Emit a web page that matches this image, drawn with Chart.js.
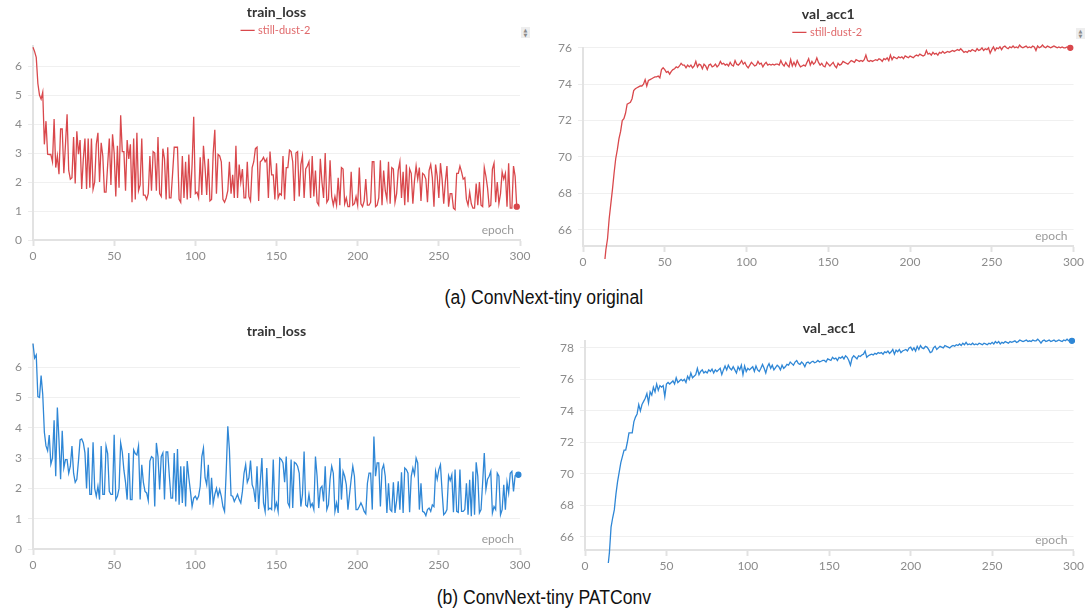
<!DOCTYPE html>
<html>
<head>
<meta charset="utf-8">
<script src="https://cdn.jsdelivr.net/npm/chart.js@4.4.1/dist/chart.umd.min.js"></script>
<style>
    body { margin: 0; background: #fff; width: 1087px; height: 610px; position: relative; overflow: hidden; }
    .box { position: absolute; }
    .caption { position: absolute; left: 0; width: 1087px; text-align: center; font-family: "Liberation Sans", Arial, sans-serif; font-size: 20px; line-height: 20px; color: #111; }
    .caption span { display: inline-block; transform: scaleX(0.88); }
    .spin { position: absolute; width: 9px; height: 11px; background: #eeeeee; color: #8a8a8a; font-family: "DejaVu Sans", sans-serif; font-size: 5px; line-height: 5px; text-align: center; padding-top: 1px; box-sizing: border-box; }
</style>
</head>
<body>
<div class="box" style="left:0;top:0;width:540px;height:270px"><canvas id="lossOrigChart"></canvas></div>
<div class="box" style="left:540px;top:0;width:547px;height:276px"><canvas id="accOrigChart"></canvas></div>
<div class="caption" style="top:287px"><span>(a) ConvNext-tiny original</span></div>
<div class="box" style="left:0;top:310px;width:540px;height:269px"><canvas id="lossPatChart"></canvas></div>
<div class="box" style="left:540px;top:310px;width:547px;height:270px"><canvas id="accPatChart"></canvas></div>
<div class="caption" style="top:587px"><span>(b) ConvNext-tiny PATConv</span></div>
<div class="spin" style="left:521px;top:27px">&#9650;<br>&#9660;</div>
<div class="spin" style="left:1076px;top:28px">&#9650;<br>&#9660;</div>
<script>
// run name shown in the legend
const runName = 'still-dust-2';

// x axis (epochs)
const epochMin = 0;
const epochMax = 300;
const epochStep = 50;

// train_loss, ConvNext-tiny original (epochs 0..298)
const lossOrig = [
    6.65, 6.5, 6.3, 5.4, 5.0, 4.86, 5.1, 3.3, 4.1, 2.96,
    2.95, 2.95, 2.7, 4.17, 2.5, 2.9, 2.27, 3.83, 3.83, 2.3,
    3.3, 4.34, 2.4, 2.1, 2.15, 3.55, 1.95, 3.75, 2.96, 3.45,
    1.76, 2.8, 3.5, 1.76, 3.5, 1.8, 3.5, 1.75, 2.0, 3.3,
    3.7, 2.0, 3.35, 2.9, 1.65, 1.65, 2.6, 3.5, 1.9, 3.65,
    3.0, 1.5, 3.25, 1.8, 4.3, 3.05, 3.05, 1.7, 3.45, 2.8,
    3.3, 1.3, 3.5, 1.4, 3.7, 1.7, 1.9, 3.5, 1.55, 1.55,
    1.4, 1.6, 2.9, 1.7, 3.05, 3.0, 1.7, 3.55, 1.6, 1.5,
    3.15, 2.8, 1.4, 3.2, 1.45, 1.45, 2.3, 3.2, 3.2, 3.2,
    1.4, 1.3, 2.9, 1.45, 2.7, 1.4, 2.95, 1.45, 2.6, 4.25,
    1.6, 1.65, 1.45, 2.85, 1.55, 3.25, 2.5, 1.55, 2.8, 1.35,
    1.4, 3.0, 3.8, 1.6, 2.95, 2.9, 2.7, 1.4, 1.3, 1.45,
    1.7, 2.7, 1.6, 2.25, 1.45, 3.25, 1.45, 2.6, 2.0, 2.45,
    1.45, 1.45, 2.7, 1.5, 1.35, 2.5, 2.7, 3.15, 3.2, 1.35,
    2.7, 2.75, 2.85, 2.7, 2.8, 1.45, 3.05, 2.25, 2.25, 1.4,
    2.65, 1.45, 1.6, 1.55, 2.9, 1.4, 2.5, 2.5, 3.1, 3.05,
    2.7, 1.35, 3.0, 3.05, 1.5, 2.6, 2.9, 1.45, 2.45, 2.55,
    2.7, 1.45, 2.9, 1.5, 2.4, 1.3, 1.2, 2.8, 2.0, 1.45,
    3.0, 1.3, 1.4, 2.75, 1.5, 1.2, 1.5, 1.2, 2.15, 1.2,
    2.5, 2.45, 1.25, 1.45, 1.15, 1.15, 2.35, 1.2, 1.25, 1.5,
    1.2, 2.5, 1.25, 1.15, 1.35, 2.1, 1.2, 1.2, 1.3, 2.7,
    2.7, 1.15, 1.2, 1.45, 2.75, 1.2, 2.4, 1.7, 1.4, 2.7,
    1.25, 2.5, 2.45, 1.3, 1.6, 2.4, 2.7, 1.45, 2.35, 1.2,
    2.6, 1.3, 2.45, 2.3, 1.25, 2.05, 2.55, 2.1, 2.5, 1.35,
    2.3, 2.25, 2.1, 1.3, 2.4, 2.6, 2.15, 1.15, 2.6, 2.2,
    1.45, 2.65, 2.1, 1.25, 2.0, 2.55, 1.15, 1.6, 1.6, 1.1,
    1.05, 2.3, 2.3, 2.55, 2.35, 2.1, 2.15, 1.4, 1.2, 1.65,
    1.25, 1.1, 1.1, 1.95, 1.2, 2.0, 1.2, 1.15, 2.5, 2.2,
    1.8, 1.15, 1.2, 2.45, 2.65, 1.3, 2.0, 1.25, 1.6, 2.35,
    2.1, 2.3, 1.15, 2.65, 1.1, 1.1, 2.55, 2.2, 1.15
];

// val_acc1, ConvNext-tiny original (epochs 0..298, early epochs are below the view)
const accOrig = [
    null, null, null, null, null, null, null, null, null, null,
    58.5, 60.8, 62.6, 64.0, 64.9, 65.5, 66.6, 67.4, 68.2, 69.1,
    69.9, 70.4, 71.0, 71.4, 72.0, 72.1, 72.4, 72.9, 72.95, 73.0,
    73.2, 73.65, 73.75, 73.8, 73.85, 73.9, 73.9, 74.0, 74.25, 73.9,
    74.2, 74.25, 74.3, 74.35, 74.4, 74.4, 74.45, 74.35, 74.8, 74.9,
    74.8, 74.65, 74.7, 74.55, 74.7, 74.8, 74.85, 74.95, 74.9, 75.0,
    75.15, 75.05, 75.05, 74.9, 75.05, 74.95, 75.05, 74.9, 75.0, 75.25,
    74.95, 75.1, 75.05, 74.85, 75.1, 75.0, 74.8, 75.05, 75.1, 74.95,
    75.0, 75.1, 74.95, 75.05, 75.25, 75.1, 75.15, 75.05, 75.1, 75.0,
    75.2, 75.05, 75.0, 75.3, 75.1, 75.05, 75.15, 75.3, 75.1, 75.2,
    75.0, 74.9, 75.05, 75.2, 75.1, 75.0, 75.05, 75.25, 75.1, 75.15,
    74.95, 75.1, 75.2, 75.05, 75.1, 75.05, 75.1, 75.05, 75.1, 75.1,
    75.05, 75.3, 75.1, 75.0, 75.2, 75.05, 74.95, 75.35, 75.0, 75.2,
    75.0, 75.3, 75.1, 74.95, 75.0, 75.05, 75.0, 75.2, 75.4, 75.05,
    75.25, 75.1, 75.2, 75.45, 75.2, 75.05, 75.15, 75.0, 74.95, 75.2,
    75.1, 75.0, 75.1, 75.2, 75.0, 74.9, 75.15, 75.05, 75.1, 75.25,
    75.2, 75.15, 75.1, 75.2, 75.3, 75.25, 75.2, 75.35, 75.3, 75.25,
    75.3, 75.25, 75.35, 75.6, 75.3, 75.25, 75.3, 75.25, 75.3, 75.35,
    75.3, 75.4, 75.35, 75.25, 75.4, 75.35, 75.45, 75.3, 75.6, 75.35,
    75.5, 75.45, 75.4, 75.5, 75.45, 75.5, 75.4, 75.55, 75.5, 75.45,
    75.55, 75.5, 75.45, 75.55, 75.6, 75.55, 75.65, 75.6, 75.55, 75.6,
    75.85, 75.65, 75.7, 75.6, 75.75, 75.65, 75.7, 75.6, 75.75, 75.7,
    75.8, 75.7, 75.75, 75.8, 75.75, 75.8, 75.85, 75.8, 75.85, 75.9,
    75.85, 75.95, 75.85, 75.75, 75.8, 75.75, 75.85, 75.8, 75.9, 75.85,
    75.8, 75.95, 75.85, 75.9, 76.0, 75.85, 75.95, 75.9, 76.0, 75.7,
    75.9, 76.05, 75.85, 76.0, 75.95, 76.05, 75.9, 76.05, 76.1, 76.0,
    75.95, 76.05, 76.0, 76.1, 76.0, 76.05, 76.0, 76.15, 76.05, 76.0,
    76.05, 76.1, 76.0, 76.05, 76.0, 76.1, 76.05, 75.85, 76.1, 76.0,
    76.05, 76.15, 76.05, 76.0, 76.1, 76.05, 76.0, 76.05, 76.1, 76.05,
    76.0, 76.05, 76.0, 76.05, 76.0, 76.0, 76.05, 76.0, 76.0
];

// train_loss, ConvNext-tiny PATConv (epochs 0..299)
const lossPat = [
    6.77, 6.3, 6.4, 5.03, 5.0, 5.72, 5.1, 3.85, 3.4, 3.24,
    3.76, 2.8, 3.0, 4.25, 2.4, 4.67, 3.6, 2.3, 3.9, 2.68,
    2.95, 2.95, 2.5, 2.73, 3.4, 2.5, 2.2, 2.3, 2.9, 3.6,
    3.63, 3.5, 3.17, 2.0, 3.35, 1.8, 1.8, 3.52, 2.0, 1.74,
    2.07, 1.63, 3.4, 1.8, 1.8, 3.4, 3.15, 1.9, 1.8, 1.8,
    3.77, 1.63, 1.74, 2.0, 3.5, 3.2, 2.6, 2.2, 1.63, 3.17,
    1.63, 1.63, 3.27, 3.15, 3.1, 3.4, 1.63, 2.78, 2.2, 1.9,
    1.85, 1.6, 2.9, 3.05, 3.0, 1.4, 3.5, 3.05, 1.96, 3.05,
    3.17, 1.63, 3.2, 3.2, 2.4, 1.68, 1.68, 3.17, 1.57, 3.3,
    1.46, 2.73, 1.52, 2.73, 1.4, 2.9, 2.35, 1.9, 1.4, 1.68,
    1.74, 1.63, 1.74, 2.07, 3.05, 3.33, 2.35, 2.12, 2.78, 1.46,
    2.35, 1.5, 1.8, 2.0, 1.74, 1.96, 1.74, 1.4, 1.24, 2.53,
    4.05, 3.27, 1.76, 1.74, 1.57, 1.68, 1.8, 1.63, 1.52, 1.9,
    2.5, 2.78, 2.2, 2.35, 2.92, 2.12, 1.96, 1.55, 2.73, 1.32,
    2.2, 3.0, 1.52, 1.24, 2.67, 1.3, 1.35, 1.3, 2.95, 1.33,
    1.52, 1.24, 3.0, 2.95, 2.84, 2.2, 3.05, 1.52, 1.4, 2.95,
    1.35, 2.86, 2.82, 2.73, 2.5, 1.4, 1.8, 3.22, 1.45, 1.4,
    1.8, 1.4, 1.5, 1.3, 3.05, 2.4, 1.35, 2.0, 2.07, 1.57,
    2.73, 1.3, 1.46, 2.3, 2.73, 2.5, 1.24, 1.52, 1.19, 3.0,
    1.63, 2.56, 2.4, 2.12, 1.3, 1.8, 2.3, 2.73, 2.4, 1.3,
    1.3, 1.4, 1.52, 1.4, 1.24, 1.16, 2.17, 2.5, 2.5, 1.3,
    3.71, 2.4, 2.84, 2.84, 1.4, 2.62, 2.78, 2.4, 1.19, 2.17,
    1.3, 1.24, 2.2, 1.19, 1.6, 2.23, 1.3, 2.53, 1.19, 2.67,
    2.62, 2.5, 1.21, 2.4, 2.67, 2.45, 3.0, 2.84, 1.3, 2.17,
    1.24, 1.21, 1.1, 1.3, 1.35, 1.24, 1.46, 1.4, 2.56, 2.3,
    2.62, 2.78, 1.9, 1.13, 1.19, 1.3, 2.42, 2.26, 2.45, 1.21,
    2.62, 1.24, 1.21, 2.62, 1.24, 1.24, 1.3, 2.17, 1.13, 2.28,
    1.08, 2.56, 1.13, 2.86, 2.4, 1.19, 1.3, 2.2, 3.17, 1.96,
    2.3, 2.4, 2.56, 1.19, 1.4, 1.3, 2.5, 2.4, 1.13, 1.3,
    2.12, 1.3, 2.2, 1.85, 2.5, 2.56, 1.9, 2.42, 2.45, 2.45
];

// val_acc1, ConvNext-tiny PATConv (epochs 0..299, early epochs are below the view)
const accPat = [
    null, null, null, null, null, null, null, null, null, null,
    57.5, 59.5, 61.4, 62.9, 64.0, 65.0, 66.6, 67.2, 67.7, 68.7,
    69.5, 70.1, 70.7, 71.1, 71.5, 71.5, 72.0, 72.6, 72.6, 72.6,
    73.3, 73.6, 73.8, 74.4, 74.0, 74.4, 74.6, 74.8, 75.1, 74.5,
    75.2, 75.0, 75.5, 75.2, 75.7, 75.3, 75.6, 75.5, 75.6, 74.9,
    75.7, 75.8, 75.7, 75.8, 75.9, 75.7, 76.1, 75.8, 75.9, 76.0,
    75.9, 76.0, 75.8, 76.2, 76.0, 76.4, 76.1, 76.2, 76.3, 76.7,
    76.3, 76.5, 76.6, 76.4, 76.5, 76.4, 76.6, 76.5, 76.65, 76.4,
    76.6, 76.5, 76.6, 76.7, 76.3, 76.6, 76.85, 76.6, 76.9, 76.7,
    76.6, 76.8, 76.6, 76.4, 76.8, 76.6, 76.9, 76.3, 76.85, 76.5,
    76.7, 76.6, 76.7, 76.8, 76.5, 76.85, 76.6, 76.5, 76.7, 76.95,
    76.7, 76.4, 76.8, 77.0, 76.7, 76.9, 76.6, 76.75, 76.9, 76.8,
    76.6, 76.9, 76.7, 76.8, 76.95, 76.9, 77.1, 77.0, 76.9, 77.1,
    77.2, 77.0, 76.95, 77.1, 77.0, 76.8, 77.05, 77.1, 77.0, 77.1,
    77.15, 77.05, 77.1, 77.2, 77.1, 77.15, 77.2, 77.2, 77.1, 77.3,
    77.25, 77.2, 77.4, 77.3, 77.35, 77.2, 77.4, 77.35, 77.45, 77.3,
    77.5, 77.4, 77.2, 76.9, 77.35, 77.5, 77.4, 77.3, 77.5, 77.45,
    77.55, 77.6, 77.8, 77.4, 77.5, 77.55, 77.6, 77.55, 77.65, 77.6,
    77.7, 77.65, 77.7, 77.6, 77.75, 77.7, 77.8, 77.65, 77.75, 77.9,
    77.6, 77.85, 77.75, 77.9, 77.7, 77.8, 77.85, 77.9, 77.8, 78.0,
    78.05, 77.85, 78.0, 77.8, 78.1, 77.9, 78.15, 78.0, 77.95, 78.1,
    78.05, 77.9, 77.7, 77.75, 78.0, 78.1, 77.9, 78.0, 78.1, 78.05,
    78.0, 78.15, 78.1, 78.05, 78.0, 78.1, 78.15, 78.1, 78.2, 78.15,
    78.25, 78.15, 78.3, 78.2, 78.35, 78.2, 78.25, 78.2, 78.3, 78.2,
    78.25, 78.2, 78.3, 78.25, 78.2, 78.3, 78.25, 78.2, 78.3, 78.25,
    78.35, 78.25, 78.4, 78.3, 78.4, 78.25, 78.35, 78.3, 78.4, 78.35,
    78.3, 78.4, 78.35, 78.4, 78.45, 78.35, 78.4, 78.5, 78.45, 78.4,
    78.45, 78.5, 78.4, 78.45, 78.4, 78.5, 78.45, 78.45, 78.55, 78.45,
    78.3, 78.45, 78.5, 78.4, 78.45, 78.5, 78.4, 78.45, 78.5, 78.4,
    78.45, 78.5, 78.45, 78.4, 78.5, 78.45, 78.55, 78.45, 78.5, 78.45
];

// y axis ranges as they appear in each panel
const lossRange = { min: 0, max: 6.7, step: 1 };
const lossPatRange = { min: 0, max: 6.77, step: 1 };
const accOrigRange = { min: 65.1, max: 76, step: 2 };
const accPatRange = { min: 65.15, max: 78.45, step: 2 };

const RED = '#d9484c';
const BLUE = '#2f87d6';
const FONT = 'Lato, "Noto Sans", sans-serif';
const AXIS = '#e2e2e2';
const TICK_TEXT = '#8c8c8c';

// draws the small "epoch" label inside the plot, bottom right
const epochLabel = {
    id: 'epochLabel',
    afterDraw(chart) {
        const { ctx, chartArea } = chart;
        ctx.save();
        ctx.font = '12px ' + FONT;
        ctx.fillStyle = '#9a9a9a';
        ctx.textAlign = 'right';
        ctx.textBaseline = 'alphabetic';
        ctx.fillText('epoch', chartArea.right - 6, chartArea.bottom - 6);
        ctx.restore();
    }
};

/**
 * Create one W&B style line panel
 * @param {string} canvasId - Canvas element ID
 * @param {string} title - Panel title
 * @param {Array} values - y values, one per epoch
 * @param {Object} range - y axis min/max/step
 * @param {Object} look - colour, legend and layout settings
 */
function createPanel(canvasId, title, values, range, look) {
    const ctx = document.getElementById(canvasId);
    const points = values.map((v, i) => ({ x: i, y: v }));
    const last = values.length - 1;

    return new Chart(ctx, {
        type: 'line',
        data: {
            datasets: [{
                label: runName,
                data: points,
                borderColor: look.color,
                backgroundColor: look.color,
                borderWidth: 1.3,
                tension: 0,
                spanGaps: false,
                pointRadius: c => (c.dataIndex === last ? 2.5 : 0),
                pointHoverRadius: 0,
                clip: { left: 2, top: 6, right: 6, bottom: 13 }
            }]
        },
        options: {
            responsive: true,
            maintainAspectRatio: false,
            animation: false,
            events: [],
            layout: {
                padding: { top: look.padTop, right: look.padRight, bottom: 0, left: 0 }
            },
            plugins: {
                title: {
                    display: true,
                    text: title,
                    color: '#333333',
                    fullSize: false,
                    font: { family: FONT, size: 14, weight: 'bold' },
                    padding: { top: look.titleTop, bottom: look.legend ? 0 : 4 }
                },
                legend: {
                    display: look.legend,
                    fullSize: false,
                    labels: {
                        color: '#e06a6c',
                        usePointStyle: true,
                        pointStyle: 'line',
                        boxWidth: 10,
                        boxHeight: 10,
                        padding: 4,
                        font: { family: FONT, size: 11 }
                    }
                },
                tooltip: { enabled: false }
            },
            scales: {
                x: {
                    type: 'linear',
                    min: epochMin,
                    max: epochMax,
                    afterFit: s => { s.height = 30; },
                    ticks: {
                        stepSize: epochStep,
                        color: TICK_TEXT,
                        padding: 3,
                        maxRotation: 0,
                        font: { family: FONT, size: 12 }
                    },
                    grid: {
                        drawOnChartArea: false,
                        tickLength: 6,
                        tickColor: AXIS,
                        tickWidth: 2
                    },
                    border: { color: AXIS, width: 2 }
                },
                y: {
                    min: range.min,
                    max: range.max,
                    afterFit: s => { s.width = look.yWidth; },
                    ticks: {
                        stepSize: range.step,
                        includeBounds: false,
                        color: TICK_TEXT,
                        padding: 6,
                        font: { family: FONT, size: 12 }
                    },
                    grid: {
                        color: '#f0f0f0',
                        tickLength: 5,
                        tickColor: '#ececec'
                    },
                    border: { color: AXIS, width: 2 }
                }
            }
        },
        plugins: [epochLabel]
    });
}

createPanel('lossOrigChart', 'train_loss', lossOrig, lossRange,
    { color: RED, legend: true, titleTop: 4, padTop: 0, padRight: 20, yWidth: 33 });
createPanel('accOrigChart', 'val_acc1', accOrig, accOrigRange,
    { color: RED, legend: true, titleTop: 4, padTop: 2, padRight: 12, yWidth: 43 });
createPanel('lossPatChart', 'train_loss', lossPat, lossPatRange,
    { color: BLUE, legend: false, titleTop: 5, padTop: 8, padRight: 20, yWidth: 33 });
createPanel('accPatChart', 'val_acc1', accPat, accPatRange,
    { color: BLUE, legend: false, titleTop: 5, padTop: 5, padRight: 12, yWidth: 45 });
</script>
</body>
</html>
